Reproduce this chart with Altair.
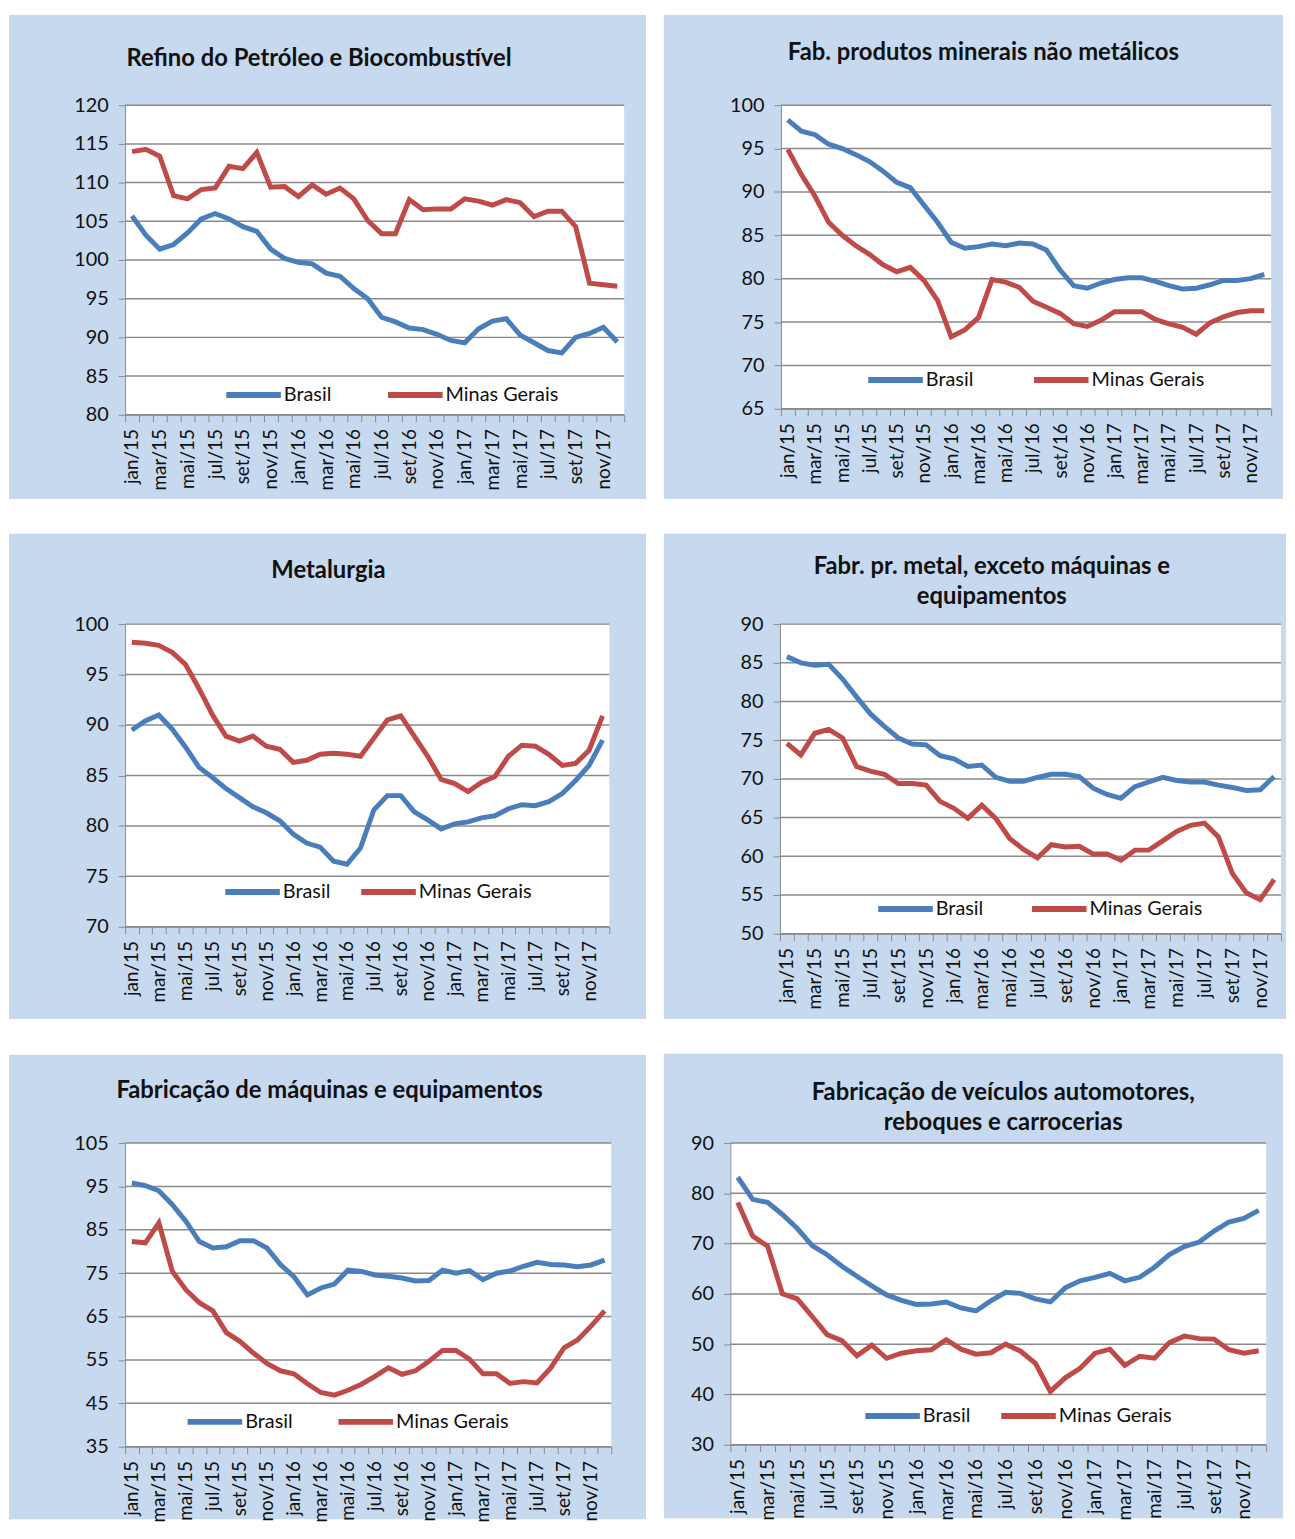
import altair as alt
import pandas as pd

# ---------------- data ----------------
MESES = [f"{m}/{a}" for a in ("15", "16", "17")
         for m in ["jan", "fev", "mar", "abr", "mai", "jun", "jul", "ago", "set", "out", "nov", "dez"]]
SERIES = ["Brasil", "Minas Gerais"]

refino_br = [105.7, 103.2, 101.4, 102.0, 103.5, 105.3, 106.0, 105.3, 104.3, 103.7, 101.4, 100.2,
             99.7, 99.5, 98.3, 97.9, 96.3, 95.0, 92.6, 92.0, 91.2, 91.0, 90.4, 89.6,
             89.3, 91.1, 92.1, 92.4, 90.3, 89.3, 88.3, 88.0, 90.0, 90.5, 91.3, 89.4]
refino_mg = [114.0, 114.3, 113.4, 108.3, 107.9, 109.1, 109.3, 112.1, 111.8, 113.9, 109.4, 109.5,
             108.2, 109.7, 108.5, 109.3, 107.9, 105.1, 103.4, 103.4, 107.8, 106.5, 106.6, 106.6,
             107.9, 107.6, 107.1, 107.8, 107.4, 105.6, 106.3, 106.3, 104.3, 97.0, 96.8, 96.6]
refino_ticks = [80, 85, 90, 95, 100, 105, 110, 115, 120]

minerais_br = [98.3, 97.0, 96.6, 95.5, 95.0, 94.3, 93.5, 92.4, 91.1, 90.5, 88.5, 86.5,
               84.2, 83.5, 83.7, 84.0, 83.8, 84.1, 84.0, 83.3, 81.0, 79.2, 78.9, 79.5,
               79.9, 80.1, 80.1, 79.7, 79.2, 78.8, 78.9, 79.3, 79.8, 79.8, 80.0, 80.5]
minerais_mg = [94.9, 92.0, 89.5, 86.5, 85.0, 83.8, 82.8, 81.6, 80.8, 81.3, 79.8, 77.5,
               73.3, 74.1, 75.5, 79.9, 79.6, 79.0, 77.4, 76.7, 76.0, 74.8, 74.5, 75.2,
               76.2, 76.2, 76.2, 75.3, 74.8, 74.4, 73.6, 74.9, 75.6, 76.1, 76.3, 76.3]
minerais_ticks = [65, 70, 75, 80, 85, 90, 95, 100]

metal_br = [89.5, 90.4, 91.0, 89.6, 87.8, 85.8, 84.8, 83.7, 82.8, 81.9, 81.3, 80.5,
            79.2, 78.3, 77.9, 76.5, 76.2, 77.8, 81.6, 83.0, 83.0, 81.4, 80.6, 79.7,
            80.2, 80.4, 80.8, 81.0, 81.7, 82.1, 82.0, 82.4, 83.2, 84.5, 86.0, 88.5]
metal_mg = [98.2, 98.1, 97.9, 97.2, 96.0, 93.6, 91.0, 88.9, 88.4, 88.9, 87.9, 87.6,
            86.3, 86.5, 87.1, 87.2, 87.1, 86.9, 88.7, 90.5, 90.9, 88.9, 86.9, 84.6,
            84.2, 83.4, 84.3, 84.9, 86.9, 88.0, 87.9, 87.1, 86.0, 86.2, 87.5, 90.9]
metal_ticks = [70, 75, 80, 85, 90, 95, 100]

prmetal_br = [85.8, 85.0, 84.7, 84.8, 82.9, 80.6, 78.4, 76.8, 75.3, 74.5, 74.4, 73.0,
              72.6, 71.6, 71.8, 70.2, 69.7, 69.7, 70.2, 70.6, 70.6, 70.3, 68.8, 68.0,
              67.5, 69.0, 69.6, 70.2, 69.8, 69.6, 69.6, 69.2, 68.9, 68.5, 68.6, 70.3]
prmetal_mg = [74.6, 73.1, 75.9, 76.4, 75.3, 71.6, 71.0, 70.6, 69.4, 69.4, 69.2, 67.1,
              66.2, 64.9, 66.6, 64.9, 62.3, 60.9, 59.8, 61.5, 61.2, 61.3, 60.3, 60.3,
              59.5, 60.8, 60.8, 62.0, 63.2, 64.0, 64.3, 62.5, 57.8, 55.3, 54.4, 57.0]
prmetal_ticks = [50, 55, 60, 65, 70, 75, 80, 85, 90]

maq_br = [95.8, 95.2, 94.0, 90.8, 87.0, 82.3, 80.8, 81.1, 82.5, 82.5, 80.8, 77.0,
          74.2, 70.0, 71.6, 72.5, 75.7, 75.4, 74.6, 74.3, 73.9, 73.2, 73.3, 75.7,
          75.0, 75.6, 73.5, 75.0, 75.5, 76.6, 77.5, 77.0, 76.9, 76.5, 76.9, 78.0]
maq_mg = [82.3, 82.0, 86.6, 75.4, 71.2, 68.2, 66.3, 61.3, 59.3, 56.6, 54.2, 52.5,
          51.8, 49.5, 47.5, 46.9, 48.0, 49.4, 51.2, 53.2, 51.7, 52.5, 54.7, 57.2,
          57.2, 55.2, 51.8, 51.8, 49.6, 50.0, 49.7, 53.1, 57.8, 59.6, 62.8, 66.3]
maq_ticks = [35, 45, 55, 65, 75, 85, 95, 105]

veic_br = [83.2, 78.8, 78.2, 75.8, 73.0, 69.6, 67.8, 65.5, 63.5, 61.6, 59.8, 58.7,
           57.9, 58.0, 58.4, 57.2, 56.6, 58.6, 60.3, 60.1, 59.0, 58.4, 61.2, 62.6,
           63.3, 64.1, 62.6, 63.3, 65.3, 67.8, 69.4, 70.3, 72.5, 74.3, 75.0, 76.6]
veic_mg = [78.2, 71.5, 69.5, 60.0, 59.0, 55.5, 51.9, 50.7, 47.7, 49.8, 47.2, 48.2,
           48.7, 48.9, 50.9, 49.0, 48.0, 48.3, 50.0, 48.6, 46.2, 40.6, 43.3, 45.2,
           48.2, 49.0, 45.8, 47.6, 47.2, 50.3, 51.6, 51.1, 51.0, 48.9, 48.2, 48.7]
veic_ticks = [30, 40, 50, 60, 70, 80, 90]

TITLES = [
    ["Refino do Petróleo e Biocombustível"],
    ["Fab. produtos minerais não metálicos"],
    ["Metalurgia"],
    ["Fabr. pr. metal, exceto máquinas e", "equipamentos"],
    ["Fabricação de máquinas e equipamentos"],
    ["Fabricação de veículos automotores,", "reboques e carrocerias"],
]

# ---------------- styles ----------------
BG = "#c6d9ef"
GRID = "#8a8a8a"
AXIS = "#8a8a8a"
BLUE = "#4a7ebb"
RED = "#be4b48"
FONT = "Lato"
INK = "#111111"
COLORS = [BLUE, RED]

# per panel: plot w, h, box (left, right, top, bottom), title centre dx, first title baseline ty,
# title line height, legend symbol starts (two), legend centre y
LAYOUT = [
    dict(w=503, h=312, box=(117, 22, 91, 85), tdx=-56, ty=-39, lh=31, lx=(102, 265), ly=292),
    dict(w=494, h=306, box=(118, 12, 91, 91), tdx=-43, ty=-46, lh=31, lx=(88, 255), ly=277),
    dict(w=488, h=305, box=(117, 37, 91, 93), tdx=-39, ty=-46, lh=31, lx=(101, 238), ly=270),
    dict(w=505, h=312, box=(117, 5, 91, 86), tdx=-39, ty=-51, lh=31, lx=(99, 254), ly=287),
    dict(w=490, h=306, box=(117, 35, 89, 73), tdx=-39, ty=-45, lh=31, lx=(63, 215), ly=281),
    dict(w=540, h=304, box=(67, 17, 90, 74), tdx=5, ty=-43, lh=30, lx=(136, 273), ly=275),
]
SYM = 55

DATA = [
    (refino_br, refino_mg, refino_ticks),
    (minerais_br, minerais_mg, minerais_ticks),
    (metal_br, metal_mg, metal_ticks),
    (prmetal_br, prmetal_mg, prmetal_ticks),
    (maq_br, maq_mg, maq_ticks),
    (veic_br, veic_mg, veic_ticks),
]

ONE = pd.DataFrame({"k": [0]})


def make_panel(title, br, mg, ticks, L):
    w, h = L["w"], L["h"]
    l, r, t, b = L["box"]
    rows = []
    for s, vals in zip(SERIES, (br, mg)):
        for i, (m, v) in enumerate(zip(MESES, vals)):
            rows.append({"mes": m, "valor": v, "serie": s, "i": i})
    df = pd.DataFrame(rows)

    yscale = alt.Scale(domain=[ticks[0], ticks[-1]], nice=False, zero=False)
    yaxis = alt.Axis(values=ticks, grid=False, title=None, zindex=1, domainColor=AXIS,
                     tickColor=AXIS, tickSize=7, labelFont=FONT, labelFontSize=20,
                     labelColor=INK, labelPadding=10)
    xaxis = alt.Axis(title=None, grid=False, tickBand="extent", labelAngle=-90, zindex=1,
                     labelOverlap="parity", domainColor=AXIS, tickColor=AXIS, tickSize=7,
                     labelFont=FONT, labelFontSize=19, labelColor=INK, labelPadding=7)

    layers = []
    layers.append(alt.Chart(ONE).mark_rect(color=BG).encode(
        x=alt.value(-l), x2=alt.value(w + r), y=alt.value(-t), y2=alt.value(h + b)))
    layers.append(alt.Chart(ONE).mark_rect(color="white").encode(
        x=alt.value(0), x2=alt.value(w), y=alt.value(0), y2=alt.value(h)))
    for j, line in enumerate(title):
        layers.append(alt.Chart(ONE).mark_text(font=FONT, fontSize=24, fontWeight="bold", color=INK,
                                               align="center", baseline="alphabetic").encode(
            x=alt.value(w / 2 + L["tdx"]), y=alt.value(L["ty"] + j * L["lh"]), text=alt.value(line)))
    layers.append(alt.Chart(pd.DataFrame({"v": ticks})).mark_rule(color=GRID, strokeWidth=1.5).encode(
        y=alt.Y("v:Q", scale=yscale, axis=yaxis)))
    layers.append(alt.Chart(df).mark_line(strokeWidth=5).encode(
        x=alt.X("mes:N", sort=MESES,
                scale=alt.Scale(type="band", paddingInner=0, paddingOuter=0), axis=xaxis),
        y=alt.Y("valor:Q", scale=yscale, axis=yaxis),
        color=alt.Color("serie:N", scale=alt.Scale(domain=SERIES, range=COLORS), legend=None),
        order="i:Q",
    ))
    # legend (inside the plot, like the original)
    for s, c, x0 in zip(SERIES, COLORS, L["lx"]):
        layers.append(alt.Chart(ONE).mark_rule(strokeWidth=6, color=c).encode(
            x=alt.value(x0), x2=alt.value(x0 + SYM), y=alt.value(L["ly"])))
        layers.append(alt.Chart(ONE).mark_text(font=FONT, fontSize=20, color=INK, align="left",
                                               baseline="middle").encode(
            x=alt.value(x0 + SYM + 3), y=alt.value(L["ly"]), text=alt.value(s)))
    return alt.layer(*layers).properties(width=w, height=h)


panels = [make_panel(TITLES[k], *DATA[k], LAYOUT[k]) for k in range(6)]

row1 = alt.hconcat(panels[0], panels[1], spacing=16)
row2 = alt.hconcat(panels[2], panels[3], spacing=16)
row3 = alt.hconcat(panels[4], panels[5], spacing=16)

chart = alt.vconcat(row1, row2, row3, spacing=33).properties(
    background="white", padding={"left": 0, "top": 0, "right": 0, "bottom": 0})

chart.save("out.html", embed_options={"renderer": "svg", "actions": False})
